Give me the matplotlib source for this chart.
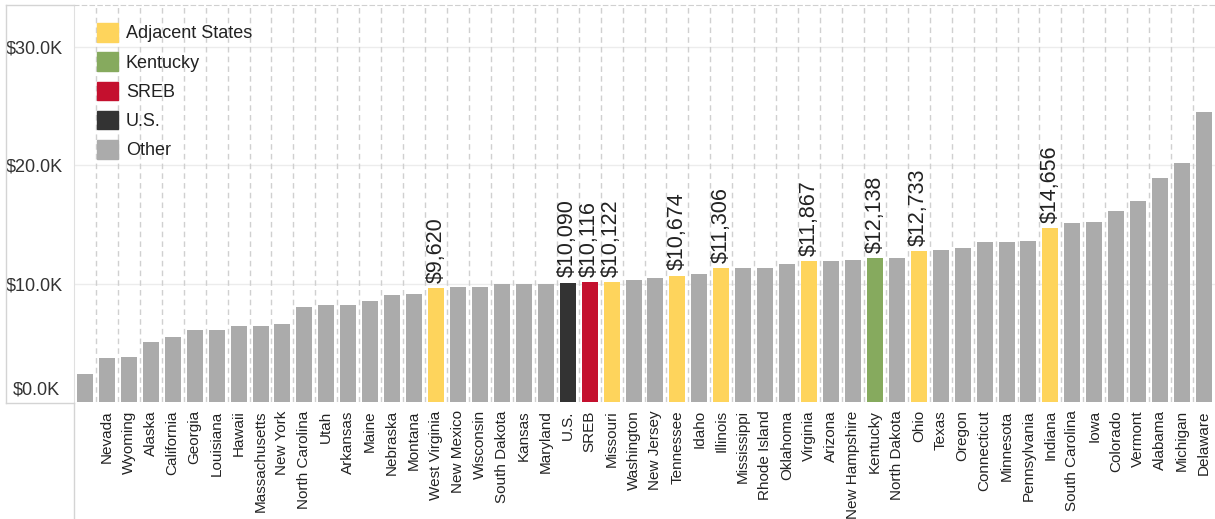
import matplotlib
matplotlib.use("Agg")
import matplotlib.pyplot as plt
from matplotlib.patches import Patch
from matplotlib.lines import Line2D
from matplotlib.transforms import offset_copy

plt.rcParams['font.family'] = ['Liberation Sans', 'DejaVu Sans']

states = ["", "Nevada", "Wyoming", "Alaska", "California", "Georgia", "Louisiana",
          "Hawaii", "Massachusetts", "New York", "North Carolina", "Utah", "Arkansas",
          "Maine", "Nebraska", "Montana", "West Virginia", "New Mexico", "Wisconsin",
          "South Dakota", "Kansas", "Maryland", "U.S.", "SREB", "Missouri",
          "Washington", "New Jersey", "Tennessee", "Idaho", "Illinois", "Mississippi",
          "Rhode Island", "Oklahoma", "Virginia", "Arizona", "New Hampshire",
          "Kentucky", "North Dakota", "Ohio", "Texas", "Oregon", "Connecticut",
          "Minnesota", "Pennsylvania", "Indiana", "South Carolina", "Iowa",
          "Colorado", "Vermont", "Alabama", "Michigan", "Delaware"]
values = [2340, 3690, 3830, 5070, 5460, 6050, 6050, 6450, 6450, 6560, 8060, 8170,
          8170, 8560, 9040, 9150, 9620, 9710, 9710, 9940, 9940, 9940, 10090, 10116,
          10122, 10280, 10450, 10674, 10790, 11306, 11290, 11290, 11660, 11867, 11880,
          12030, 12138, 12140, 12733, 12870, 13010, 13490, 13490, 13630, 14656, 15120,
          15240, 16110, 16980, 18950, 20220, 24530]

adjacent = ["West Virginia", "Missouri", "Tennessee", "Illinois", "Virginia", "Ohio", "Indiana"]
labeled = adjacent + ["U.S.", "SREB", "Kentucky"]

colors = {"Adjacent States": "#fed45c", "Kentucky": "#86aa5e", "SREB": "#c4102e",
          "U.S.": "#333333", "Other": "#ababab"}

def group(s):
    if s in adjacent:
        return "Adjacent States"
    if s in ("Kentucky", "SREB", "U.S."):
        return s
    return "Other"

W, H = 1215, 519
fig = plt.figure(figsize=(W / 100, H / 100), dpi=100)
ax = fig.add_axes([74 / W, (H - 402) / H, (W - 74) / W, (402 - 5) / H])

x = list(range(len(states)))
bar_colors = [colors[group(s)] for s in states]
ax.bar(x, values, width=0.73, color=bar_colors, zorder=3)

for i, (s, v) in enumerate(zip(states, values)):
    if s in labeled:
        ax.annotate(f"${v:,}", (i, v), xytext=(0, 4), textcoords="offset points",
                    rotation=90, ha="center", va="bottom", fontsize=15.5,
                    color="#222222", zorder=4)

ax.set_xlim(-0.5, len(states) - 0.5)
ax.set_ylim(0, 33530)
ax.set_yticks([0, 10000, 20000, 30000])
ax.set_yticklabels(["", "$10.0K", "$20.0K", "$30.0K"], fontsize=13, color="#333333")
# the $0.0K label sits a bit above the baseline
ax.text(-0.012, 0, "$0.0K", fontsize=13, color="#333333", ha="right", va="center",
        transform=offset_copy(ax.get_yaxis_transform(), fig=fig, y=12 / 100, units="inches"))
ax.set_xticks(x)
ax.set_xticklabels(states, rotation=90, fontsize=11, color="#222222")
ax.tick_params(axis="both", length=0)
ax.tick_params(axis="y", pad=8)
ax.tick_params(axis="x", pad=6)

# grid
for yv in [10000, 20000, 30000]:
    ax.axhline(yv, color="#ececec", lw=1, zorder=1)
for k in range(len(states) - 1):
    ax.axvline(k + 0.5, color="#d0d0d0", lw=1, ls=(0, (4, 3)), zorder=1)

for side in ["right", "bottom"]:
    ax.spines[side].set_visible(False)
ax.spines["top"].set_color("#d0d0d0")
ax.spines["top"].set_linestyle((0, (4, 3)))
ax.spines["left"].set_color("#e0e0e0")

# pane borders
def fline(x0, y0, x1, y1):
    fig.add_artist(Line2D([x0 / W, x1 / W], [1 - y0 / H, 1 - y1 / H],
                          color="#d4d4d4", lw=1))

fline(6, 5, 6, 403)
fline(6, 5, 74, 5)
fline(6, 403, 74, 403)
fline(74, 403, 74, 518)

handles = [Patch(color=colors[k]) for k in colors]
ax.legend(handles, list(colors.keys()), loc="upper left",
          bbox_to_anchor=(97 / W, 1 - 23 / H), bbox_transform=fig.transFigure,
          frameon=False, fontsize=13, handlelength=1.15, handleheight=1.2,
          handletextpad=0.45, labelspacing=0.55, borderpad=0, borderaxespad=0,
          labelcolor="#222222")

fig.savefig("out.png", dpi=100)
